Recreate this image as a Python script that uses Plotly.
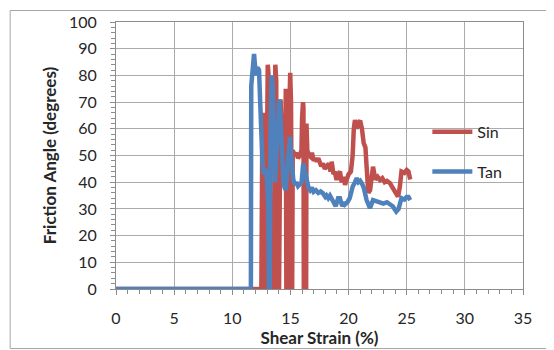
import plotly.graph_objects as go

# Shear strain (%) and friction angle (degrees)
sin_x = [0, 12.5, 12.58, 12.65, 12.72, 12.76, 12.88, 12.95, 13.05, 13.12, 13.2, 13.25, 13.55, 13.62, 13.7,
         13.78, 13.82, 14.02, 14.08, 14.15, 14.25, 14.4, 14.55, 14.6, 14.65, 14.88, 14.93, 14.98, 15.05,
         15.1, 15.15, 15.2, 15.35, 15.5, 15.65, 15.8, 15.95, 16.0, 16.08, 16.12, 16.15, 16.35, 16.38, 16.45,
         16.6, 16.7, 16.85, 17.0, 17.15, 17.26, 17.4, 17.5, 17.65, 17.8, 17.95, 18.1, 18.3, 18.45, 18.55,
         18.7, 18.8, 18.97, 19.1, 19.26, 19.4, 19.55, 19.7, 19.8, 20.0, 20.2,
         20.35, 20.45, 20.55, 20.7, 20.8, 21.0, 21.15, 21.3, 21.45, 21.55, 21.7, 21.85, 22.1, 22.3, 22.5,
         22.7, 22.9, 23.1, 23.3, 23.55, 23.8, 24.0, 24.25, 24.4, 24.55, 24.8, 25.0, 25.15, 25.3]
sin_y = [0, 0, 58, 66, 45, 0, 0, 72, 84, 80, 45, 0, 0, 70, 84,
         78, 0, 0, 66, 71, 58, 52, 50, 75, 0, 0, 72, 81, 70,
         0, 0, 52, 50, 51, 49, 50, 52, 64, 70, 68, 0, 0, 62, 52,
         50, 49.6, 51, 48, 49, 47.7, 49, 48, 46, 47, 45, 45.8, 47, 44, 47.7,
         43, 44, 40.8, 43, 44, 40, 42, 39, 40.5, 43, 44,
         50, 60, 63.3, 60, 62, 63, 60, 54.6, 53, 45.8, 36, 37, 45.8, 41, 42,
         40.8, 41.5, 40, 40.5, 39.7, 38, 36, 34.6, 38, 44, 43.5, 44.6, 44, 41]

tan_x = [0, 11.6, 11.63, 11.75, 11.87, 11.95, 12.05, 12.15, 12.3, 12.4, 12.5, 12.6, 12.7, 12.85, 13.0,
         13.1, 13.15, 13.22, 13.28, 13.38, 13.48, 13.58, 13.68, 13.8, 13.95, 14.04, 14.15, 14.28, 14.4,
         14.5, 14.6, 14.75, 14.88, 14.96, 15.05, 15.15, 15.25, 15.4, 15.5, 15.65, 15.8, 15.96, 16.1, 16.2,
         16.4, 16.55, 16.7, 16.85, 17.0, 17.2, 17.4, 17.6, 17.8, 18.0, 18.1, 18.25, 18.4, 18.55, 18.7, 18.9,
         19.1, 19.26, 19.45, 19.6, 19.7, 19.9, 20.1, 20.35, 20.55, 20.7, 20.85, 21.0,
         21.15, 21.3, 21.55, 21.84, 22.1, 22.4, 22.7, 23.0, 23.3, 23.55, 23.8, 24.1, 24.3, 24.55, 24.8,
         25.0, 25.15, 25.3]
tan_y = [0, 0, 76, 82, 88, 84, 80, 83, 82, 70, 50, 47, 43, 45, 40,
         30, 0, 0, 55, 80, 76, 55, 40, 50, 65, 71, 64, 45, 40,
         38, 37, 46, 54, 57, 50, 42, 40.8, 39, 40, 38.5, 39, 40, 47, 45,
         39.5, 38, 37, 38, 36.4, 37, 36, 36.5, 35.8, 34.5, 35, 34, 35, 33.5, 32.7, 31,
         34, 34, 31, 32.5, 31.7, 32.5, 34, 38.3, 40, 41.5, 40, 40.5,
         39.5, 38, 33.3, 30.3, 33.3, 33, 32.7, 32, 32.5, 31.5, 31, 29, 30, 34, 33.5,
         34.5, 34.5, 33.3]

x_ticks = [0, 5, 10, 15, 20, 25, 30, 35]
y_ticks = [0, 10, 20, 30, 40, 50, 60, 70, 80, 90, 100]

FONT = "Lato, Carlito, Calibri, sans-serif"
GRID = "#ABABAB"
AXIS = "#8C8C8C"
BORDER = "#A6A6A6"

fig = go.Figure()
fig.add_trace(go.Scatter(x=sin_x, y=sin_y, mode="lines", name="Sin", legendgroup="a",
                         line=dict(color="#C0504D", width=4.5)))
fig.add_trace(go.Scatter(x=tan_x, y=tan_y, mode="lines", name="Tan", legendgroup="b",
                         line=dict(color="#4F81BD", width=4.5)))

# figure is placed at an 8px body margin inside the page, so size/margins compensate
fig.update_layout(
    width=546, height=342,
    margin=dict(l=108, r=31, t=14, b=61, pad=0),
    paper_bgcolor="white", plot_bgcolor="white",
    font=dict(family=FONT, size=16, color="#262626"),
    showlegend=True,
    legend=dict(x=0.765, y=0.652, xanchor="left", yanchor="top", itemwidth=40,
                bgcolor="rgba(0,0,0,0)", traceorder="grouped", tracegroupgap=16,
                font=dict(size=16, color="#262626")),
    shapes=[
        dict(type="line", xref="paper", yref="paper", x0=-0.26, x1=1.1, y0=1.043, y1=1.043,
             line=dict(color=BORDER, width=1)),
        dict(type="line", xref="paper", yref="paper", x0=-0.26, x1=1.1, y0=-0.223, y1=-0.223,
             line=dict(color=BORDER, width=1)),
        dict(type="line", xref="paper", yref="paper", x0=-0.26, x1=-0.26, y0=-0.223, y1=1.043,
             line=dict(color=BORDER, width=1)),
    ],
)
fig.update_xaxes(
    range=[0, 35], tickvals=x_ticks, showgrid=True, gridcolor=GRID, gridwidth=1,
    showline=True, linecolor=AXIS, linewidth=1, mirror=True, zeroline=False,
    ticks="outside", ticklen=5, tickcolor=AXIS, ticklabelstandoff=10, automargin=False,
    minor=dict(dtick=1, ticks="outside", ticklen=4, tickcolor=AXIS, showgrid=False),
    title=dict(text="<b>Shear Strain (%)</b>", font=dict(size=17), standoff=4),
    tickfont=dict(size=16),
)
fig.update_yaxes(
    range=[0, 100], tickvals=y_ticks, showgrid=True, gridcolor=GRID, gridwidth=1,
    showline=True, linecolor=AXIS, linewidth=1, mirror=True, zeroline=False,
    ticks="outside", ticklen=5, tickcolor=AXIS, ticklabelstandoff=10, automargin=False,
    minor=dict(dtick=2, ticks="outside", ticklen=4, tickcolor=AXIS, showgrid=False),
    title=dict(text="<b>Friction Angle (degrees)</b>", font=dict(size=17), standoff=8),
    tickfont=dict(size=16),
)

fig.write_html("out.html")
